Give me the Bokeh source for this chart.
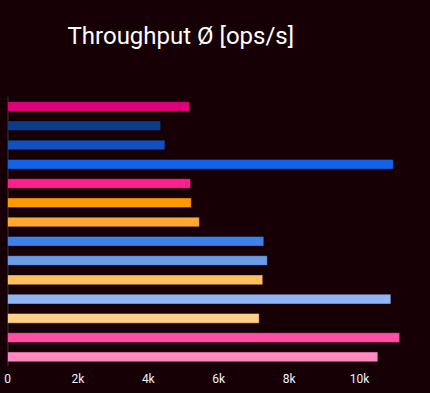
from bokeh.plotting import figure
from bokeh.models import ColumnDataSource, FactorRange, Range1d, FixedTicker, CustomJSTickFormatter, Label
from bokeh.embed import file_html
from bokeh.resources import INLINE

categories = ["r01", "r02", "r03", "r04", "r05", "r06", "r07",
              "r08", "r09", "r10", "r11", "r12", "r13", "r14"]
values = [5170, 4350, 4470, 10960, 5200, 5220, 5450,
          7280, 7380, 7250, 10890, 7150, 11140, 10520]
colors = ["#e0007a", "#0d3b8c", "#1150c0", "#1463e6", "#ff1f8c", "#ff9900", "#ffa833",
          "#3d80ea", "#6a9be9", "#ffbf5e", "#8fb5f5", "#ffd088", "#ff4fa3", "#ff88c0"]
x_ticks = [0, 2000, 4000, 6000, 8000, 10000]
title_text = "Throughput \u00d8 [ops/s]"

# empty rows above the bars that leave room for the title inside the frame
pad_factors = [" " * (i + 1) for i in range(5)]

BG = "#160005"
src = ColumnDataSource(dict(cat=categories, val=values, color=colors))

p = figure(frame_width=415, frame_height=366, output_backend="svg", toolbar_location=None,
           y_range=FactorRange(*(list(reversed(categories)) + pad_factors), range_padding=0),
           x_range=Range1d(0, 11790),
           min_border_left=7, min_border_right=0, min_border_top=0, min_border_bottom=0)
p.background_fill_color = BG
p.border_fill_color = BG
p.outline_line_color = None

# y axis line along the bars
p.segment(x0=[0], y0=[0], x1=[0], y1=[len(categories)], line_color="#2e3a4a", line_width=2)

p.hbar(y="cat", right="val", left=0, height=0.5, source=src, fill_color="color",
       line_color="black", line_alpha=0.35, line_width=1)

p.add_layout(Label(x=1705, y=17.18, text=title_text,
                   text_color="#ffffff", text_font="Roboto", text_font_size="24px",
                   text_baseline="alphabetic", text_align="left"))

p.yaxis.visible = False
p.xgrid.visible = False
p.ygrid.visible = False

p.xaxis.ticker = FixedTicker(ticks=x_ticks)
p.xaxis.formatter = CustomJSTickFormatter(code="return tick == 0 ? '0' : (tick/1000) + 'k';")
p.xaxis.axis_line_color = None
p.xaxis.major_tick_line_color = None
p.xaxis.minor_tick_line_color = None
p.xaxis.major_tick_out = 0
p.xaxis.minor_tick_out = 0
p.xaxis.major_label_standoff = 5
p.xaxis.axis_label_standoff = 0
p.xaxis.major_label_text_color = "#eef3ff"
p.xaxis.major_label_text_font = "Roboto"
p.xaxis.major_label_text_font_size = "12px"
p.xaxis.major_label_text_font_style = "normal"

html = file_html(p, INLINE)
html = html.replace("<head>", "<head><style>html, body { background: #160005; }</style>", 1)
open("out.html", "w").write(html)
